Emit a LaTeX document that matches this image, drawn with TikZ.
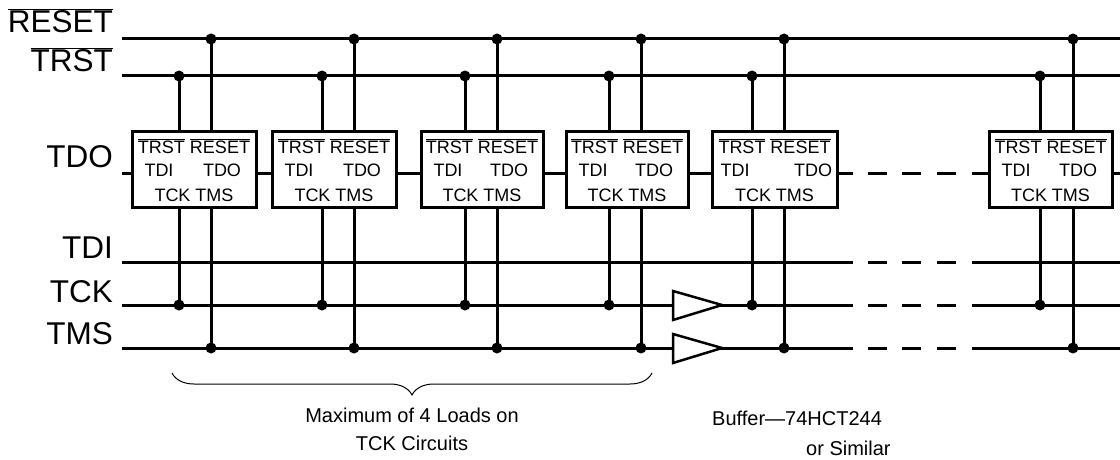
\documentclass[tikz,border=0pt]{standalone}
\usepackage{fontspec}
\setmainfont{Liberation Sans}
\usetikzlibrary{decorations.pathreplacing}
\newcommand\ovl[1]{$\overline{\hbox{#1}}$}
\begin{document}
\begin{tikzpicture}[x=1pt,y=-1pt,
  wire/.style={line width=3pt},
  dot/.style={circle,fill=black,inner sep=0pt,minimum size=11pt},
  chip/.style={draw,line width=3pt,fill=white,inner sep=0pt,minimum height=76pt},
  pin/.style={font=\fontsize{18}{20}\selectfont,inner sep=0pt,anchor=base},
  sig/.style={font=\fontsize{31.5}{34}\selectfont,inner sep=0pt,anchor=base east},
  note/.style={font=\fontsize{20}{24}\selectfont,inner sep=0pt},
  buf/.style={line width=2.5pt,fill=white,line join=miter}]
\useasboundingbox (0,0) rectangle (1120,460);

% signal labels
\node[sig] (lRESET) at (113,33) {\ovl{RESET}};
\node[sig] (lTRST) at (113,72) {\ovl{TRST}};
\node[sig] (lTDO) at (113,167) {TDO};
\node[sig] (lTDI) at (113,258) {TDI};
\node[sig] (lTCK) at (113,302) {TCK};
\node[sig] (lTMS) at (113,344) {TMS};

% bus start/end points
\coordinate (rs0) at (122,39);  \coordinate (rs1) at (1120,39);
\coordinate (tr0) at (122,76);  \coordinate (tr1) at (1120,76);
\coordinate (do0) at (122,173); \coordinate (do1) at (1120,173);
\coordinate (di0) at (122,262); \coordinate (di1) at (1120,262);
\coordinate (ck0) at (122,305); \coordinate (ck1) at (1120,305);
\coordinate (ms0) at (122,348); \coordinate (ms1) at (1120,348);

\draw[wire] (rs0) -- (rs1);
\draw[wire] (tr0) -- (tr1);

% TDI, TCK, TMS buses with broken section
\foreach \y in {262,305,348}{
  \coordinate (ga) at (853,\y); \coordinate (gb) at (972,\y);
  \draw[wire] (122,\y) -- (ga);
  \draw[wire] (gb) -- (1120,\y);
  \foreach \a/\b in {868/887,902/921,937/956}
    \draw[wire] (\a,\y) -- (\b,\y);
}

% verticals and junction dots
\foreach \k/\va/\vb in {1/179/211,2/322/354,3/465/497,4/609/641,5/752/784,6/1040/1073}{
  \node[dot] (tj\k) at (\va,76) {};
  \node[dot] (rj\k) at (\vb,39) {};
  \node[dot] (cj\k) at (\va,305) {};
  \node[dot] (mj\k) at (\vb,348) {};
  \draw[wire] (tj\k.center) -- (cj\k.center);
  \draw[wire] (rj\k.center) -- (mj\k.center);
}

% chips
\foreach \k/\L/\R/\ta/\tb in {1/132/256/27/34,2/272/396/27/34,3/421/543/27/34,4/566/688/27/34,5/712/837/23/24,6/989/1112/27/34}{
  \pgfmathsetmacro\cx{(\L+\R)/2}
  \pgfmathsetmacro\w{\R-\L}
  \node[chip,minimum width=\w pt] (b\k) at (\cx,169) {};
  \node[pin] (p\k a) at (\cx,153) {\ovl{TRST} \ovl{RESET}};
  \node[pin] (p\k b) at (\L+\ta,176) {TDI};
  \node[pin] (p\k c) at (\R-\tb,176) {TDO};
  \node[pin] (p\k d) at (\cx,201) {TCK TMS};
}

% TDO daisy chain
\draw[wire] (do0) -- (b1.west |- do0);
\draw[wire] (b1.east |- do0) -- (b2.west |- do0);
\draw[wire] (b2.east |- do0) -- (b3.west |- do0);
\draw[wire] (b3.east |- do0) -- (b4.west |- do0);
\draw[wire] (b4.east |- do0) -- (b5.west |- do0);
\draw[wire] (b5.east |- do0) -- (853,173);
\foreach \a/\b in {868/887,902/921,937/956}
  \draw[wire] (\a,173) -- (\b,173);
\draw[wire] (972,173) -- (b6.west |- do0);
\draw[wire] (b6.east |- do0) -- (do1);

% buffers
\draw[buf] (673,291) -- (722,305) -- (673,320) -- cycle;
\draw[buf] (673,334) -- (722,348) -- (673,363) -- cycle;

% brace and notes
\draw[decorate,decoration={brace,mirror,amplitude=22pt},line width=1pt] (172,373) -- (652,373);
\node[note,anchor=base] (n1) at (412,422) {Maximum of 4 Loads on};
\node[note,anchor=base] (n2) at (412,450) {TCK Circuits};
\node[note,anchor=base west] (n3) at (712,425) {Buffer—74HCT244};
\node[note,anchor=base west] (n4) at (806,455) {or Similar};
\end{tikzpicture}
\end{document}
